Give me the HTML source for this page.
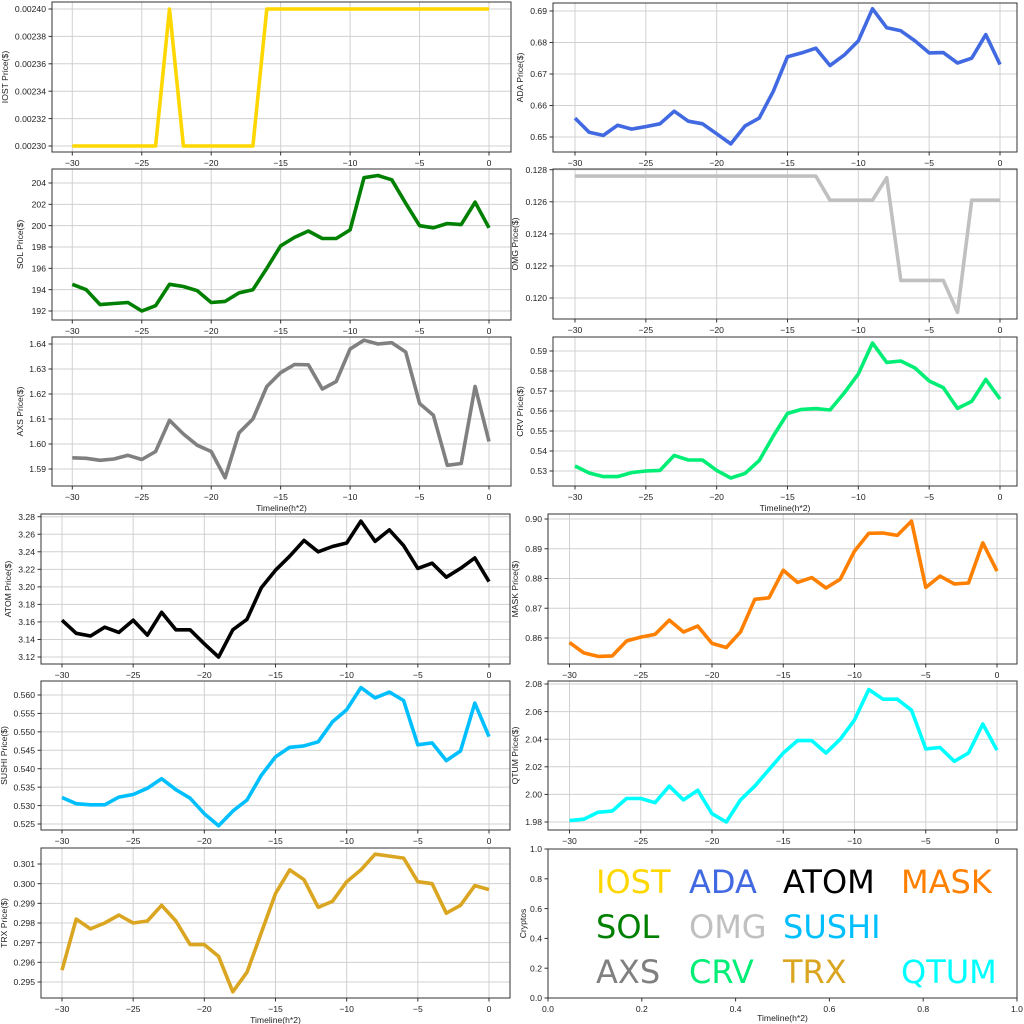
<!DOCTYPE html>
<html><head><meta charset="utf-8"><style>
html,body{margin:0;padding:0;background:#fff;}
svg{display:block;font-family:"Liberation Sans","DejaVu Sans",sans-serif;}
</style></head><body>
<svg id="s" width="1024" height="1024" xmlns="http://www.w3.org/2000/svg"></svg>
<script>
const P=[
{n:'IOST',lab:'IOST Price($)',lx:8,c:'#ffd700',r:[52,2,511,152],x:[72.3,489],y:[0.0023,146,0.0024,9],t:[0.0023,0.0024,0.00002],d:5,
v:[.0023,.0023,.0023,.0023,.0023,.0023,.0023,.0024,.0023,.0023,.0023,.0023,.0023,.0023,.0024,.0024,.0024,.0024,.0024,.0024,.0024,.0024,.0024,.0024,.0024,.0024,.0024,.0024,.0024,.0024,.0024]},
{n:'ADA',lab:'ADA  Price($)',lx:523,c:'#4169e1',r:[553,3,1017,152],x:[575,1000],y:[0.65,137,0.69,11],t:[0.65,0.69,0.01],d:2,
v:[.656,.6515,.6505,.6537,.6525,.6533,.6542,.6582,.655,.6542,.651,.6478,.6535,.656,.6645,.6755,.6767,.6782,.6727,.676,.6805,.6907,.6847,.6837,.6805,.6767,.6768,.6735,.675,.6825,.673]},
{n:'SOL',lab:'SOL Price($)',lx:23,c:'#008000',r:[52,169,511,320],x:[72.3,489],y:[192,311,204,183],t:[192,204,2],d:0,
v:[194.5,194,192.6,192.7,192.8,192,192.5,194.5,194.3,193.9,192.8,192.9,193.7,194,196,198.1,198.9,199.5,198.8,198.8,199.6,204.5,204.7,204.3,202.1,200,199.8,200.2,200.1,202.2,199.8]},
{n:'OMG',lab:'OMG  Price($)',lx:518,c:'#c0c0c0',r:[553,169,1017,319],x:[575,1000],y:[0.120,298,0.128,169.7],t:[0.120,0.128,0.002],d:3,
v:[.1276,.1276,.1276,.1276,.1276,.1276,.1276,.1276,.1276,.1276,.1276,.1276,.1276,.1276,.1276,.1276,.1276,.1276,.1261,.1261,.1261,.1261,.1275,.1211,.1211,.1211,.1211,.1191,.1261,.1261,.1261]},
{n:'AXS',lab:'AXS  Price($)',lx:23,c:'#808080',r:[52,337,511,486],x:[72.3,489],y:[1.59,469,1.64,344],t:[1.59,1.64,0.01],d:2,xl:1,
v:[1.5945,1.5943,1.5935,1.594,1.5955,1.5938,1.597,1.6095,1.604,1.5995,1.597,1.5865,1.6045,1.61,1.623,1.6285,1.6318,1.6317,1.622,1.625,1.638,1.6415,1.64,1.6405,1.6368,1.6162,1.6115,1.5915,1.5922,1.623,1.601]},
{n:'CRV',lab:'CRV  Price($)',lx:523,c:'#00ee76',r:[553,337,1017,486],x:[575,1000],y:[0.53,471,0.59,351],t:[0.53,0.59,0.01],d:2,xl:1,
v:[.5325,.529,.5272,.5272,.5292,.53,.5303,.5378,.5355,.5355,.5303,.5265,.5288,.5352,.5475,.5588,.5608,.5612,.5605,.569,.5785,.594,.5843,.585,.5815,.575,.5717,.5613,.5648,.5758,.566]},
{n:'ATOM',lab:'ATOM  Price($)',lx:11,c:'#000000',r:[41,514,510,664],x:[62,489],y:[3.12,657,3.28,516.7],t:[3.12,3.28,0.02],d:2,
v:[3.162,3.147,3.144,3.154,3.148,3.162,3.145,3.171,3.151,3.151,3.135,3.12,3.151,3.163,3.199,3.219,3.235,3.253,3.24,3.246,3.25,3.275,3.252,3.265,3.247,3.221,3.227,3.211,3.221,3.233,3.206]},
{n:'MASK',lab:'MASK  Price($)',lx:518,c:'#ff8000',r:[548,514,1017,664],x:[569.5,997],y:[0.86,638,0.90,519],t:[0.86,0.90,0.01],d:2,
v:[.8585,.855,.8538,.854,.859,.8603,.8612,.866,.862,.864,.8582,.8568,.862,.873,.8735,.8828,.8787,.8803,.8768,.8798,.8892,.8952,.8953,.8945,.8993,.877,.8808,.8782,.8785,.892,.8825]},
{n:'SUSHI',lab:'SUSHI  Price($)',lx:7,c:'#00bfff',r:[41,681,510,830],x:[62,489],y:[0.525,824,0.560,695],t:[0.525,0.560,0.005],d:3,
v:[.5322,.5305,.5302,.5302,.5323,.533,.5347,.5373,.5343,.532,.5278,.5245,.5285,.5315,.5382,.5432,.5458,.5462,.5473,.5527,.556,.562,.5592,.5608,.5585,.5465,.547,.5422,.5448,.5578,.5487]},
{n:'QTUM',lab:'QTUM  Price($)',lx:518,c:'#00ffff',r:[548,681,1017,830],x:[569.5,997],y:[1.98,822,2.08,684],t:[1.98,2.08,0.02],d:2,
v:[1.981,1.982,1.987,1.988,1.997,1.997,1.994,2.006,1.996,2.003,1.986,1.98,1.996,2.006,2.018,2.03,2.039,2.039,2.03,2.04,2.054,2.076,2.069,2.069,2.061,2.033,2.034,2.024,2.03,2.051,2.032]},
{n:'TRX',lab:'TRX  Price($)',lx:7,c:'#daa520',r:[41,848,510,998],x:[62,489],y:[0.295,982,0.301,864],t:[0.295,0.301,0.001],d:3,xl:1,
v:[.2956,.2982,.2977,.298,.2984,.298,.2981,.2989,.2981,.2969,.2969,.2963,.2945,.2955,.2975,.2995,.3007,.3002,.2988,.2991,.3001,.3007,.3015,.3014,.3013,.3001,.3,.2985,.2989,.2999,.2997]}
];
let h='';
const G='#d0d0d0',T='#222',FS=8.6;
function fm(v){return v<0?'\u2212'+(-v):''+v;}
for(const p of P){
 const [L,Tp,R,B]=p.r;
 const X=i=>p.x[0]+(p.x[1]-p.x[0])*i/30;
 const Y=v=>p.y[1]+(v-p.y[0])*(p.y[3]-p.y[1])/(p.y[2]-p.y[0]);
 for(let k=0;k<=6;k++){const xv=-30+5*k,px=X(k*5);
  h+=`<line x1="${px}" y1="${Tp}" x2="${px}" y2="${B}" stroke="${G}" stroke-width="1"/>`;
  h+=`<line x1="${px}" y1="${B}" x2="${px}" y2="${B+3.5}" stroke="#333"/>`;
  h+=`<text x="${px}" y="${B+14}" font-size="${FS}" fill="${T}" text-anchor="middle">${fm(xv)}</text>`;}
 const n=Math.round((p.t[1]-p.t[0])/p.t[2]);
 for(let k=0;k<=n;k++){const v=p.t[0]+k*p.t[2],py=Y(v);
  h+=`<line x1="${L}" y1="${py}" x2="${R}" y2="${py}" stroke="${G}" stroke-width="1"/>`;
  h+=`<line x1="${L-3.5}" y1="${py}" x2="${L}" y2="${py}" stroke="#333"/>`;
  h+=`<text x="${L-6}" y="${py+3.2}" font-size="${FS}" fill="${T}" text-anchor="end">${v.toFixed(p.d)}</text>`;}
 h+=`<polyline fill="none" stroke="${p.c}" stroke-width="3.6" stroke-linejoin="round" points="${p.v.map((v,i)=>X(i).toFixed(1)+','+Y(v).toFixed(1)).join(' ')}"/>`;
 h+=`<rect x="${L}" y="${Tp}" width="${R-L}" height="${B-Tp}" fill="none" stroke="#333" stroke-width="1"/>`;
 const cy=(Tp+B)/2;
 h+=`<text transform="translate(${p.lx},${cy}) rotate(-90)" font-size="${FS}" fill="${T}" text-anchor="middle">${p.lab}</text>`;
 if(p.xl)h+=`<text x="${(L+R)/2}" y="${B+25}" font-size="${FS}" fill="${T}" text-anchor="middle">Timeline(h*2)</text>`;
}
{const L=548,Tp=849,R=1017,B=998;
 for(let k=0;k<=5;k++){const px=L+(R-L)*k/5,py=B-(B-Tp)*k/5,v=(k/5).toFixed(1);
  h+=`<line x1="${px}" y1="${B}" x2="${px}" y2="${B+3.5}" stroke="#333"/>`;
  h+=`<text x="${px}" y="${B+14}" font-size="${FS}" fill="${T}" text-anchor="middle">${v}</text>`;
  h+=`<line x1="${L-3.5}" y1="${py}" x2="${L}" y2="${py}" stroke="#333"/>`;
  h+=`<text x="${L-6}" y="${py+3.2}" font-size="${FS}" fill="${T}" text-anchor="end">${v}</text>`;}
 h+=`<rect x="${L}" y="${Tp}" width="${R-L}" height="${B-Tp}" fill="none" stroke="#333"/>`;
 h+=`<text transform="translate(${L-22},${(Tp+B)/2}) rotate(-90)" font-size="${FS}" fill="${T}" text-anchor="middle">Cryptos</text>`;
 h+=`<text x="${(L+R)/2}" y="${B+23}" font-size="${FS}" fill="${T}" text-anchor="middle">Timeline(h*2)</text>`;
 const W=[['IOST','#ffd700',596,893],['ADA','#4169e1',689,893],['ATOM','#000',783,893],['MASK','#ff8000',901,893],
 ['SOL','#008000',596,938],['OMG','#c0c0c0',689,938],['SUSHI','#00bfff',783,938],
 ['AXS','#808080',596,983],['CRV','#00ee76',689,983],['TRX','#daa520',783,983],['QTUM','#00ffff',901,983]];
 for(const w of W)h+=`<text x="${w[2]}" y="${w[3]}" font-size="32" fill="${w[1]}" font-family="DejaVu Sans, sans-serif">${w[0]}</text>`;
}
document.getElementById('s').innerHTML=h;
</script>
</body></html>
